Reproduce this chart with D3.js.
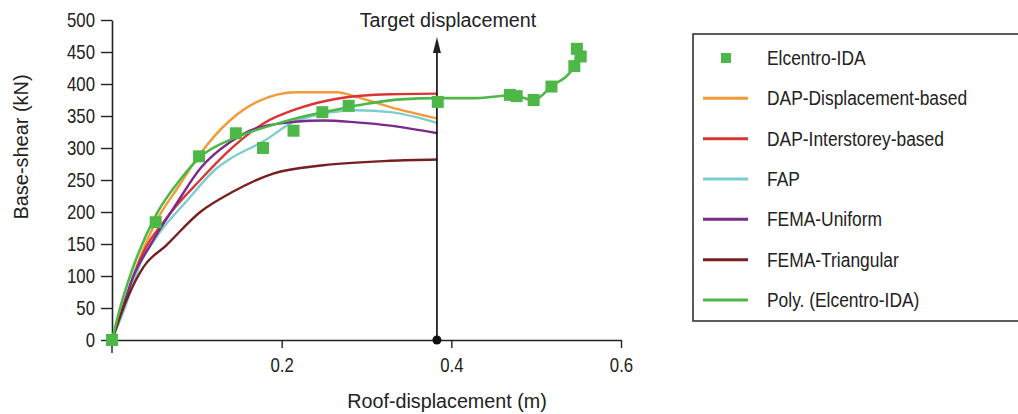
<!DOCTYPE html>
<html>
<head>
<meta charset="utf-8">
<script src="https://cdn.jsdelivr.net/npm/d3@7/dist/d3.min.js"></script>
<style>
  body { margin: 0; background: #fff; }
  svg text { font-family: "Liberation Sans Narrow", "Arial Narrow", "Liberation Sans", sans-serif; fill: #222; }
</style>
</head>
<body>
<div id="chart"></div>
<script>
// series names / colours
var seriesNames = ["DAP-Displacement-based", "DAP-Interstorey-based", "FAP", "FEMA-Uniform", "FEMA-Triangular", "Poly. (Elcentro-IDA)"];
var seriesColors = ["#F29B38", "#DA3434", "#7CCECE", "#7B2A8C", "#762022", "#4DB848"];

// roof displacement (m) / base shear (kN)
var idaX = [0, 0.0515, 0.1026, 0.146, 0.178, 0.214, 0.248, 0.279, 0.384, 0.469, 0.477, 0.497, 0.518, 0.545, 0.548, 0.5525];
var idaY = [0, 184, 287, 323, 300, 327, 356, 366, 372, 383, 381, 375, 396, 428, 455, 443];

var dapDispX = [0, 0.012, 0.025, 0.05, 0.08, 0.104, 0.139, 0.171, 0.218, 0.265, 0.288, 0.328, 0.384];
var dapDispY = [0, 45, 100, 180, 243, 291, 343, 372, 387, 387, 380, 364, 346];

var dapInterX = [0, 0.015, 0.033, 0.064, 0.104, 0.143, 0.178, 0.218, 0.265, 0.328, 0.384];
var dapInterY = [0, 55, 125, 190, 250, 302, 338, 361, 377, 384, 385];

var fapX = [0, 0.015, 0.033, 0.053, 0.09, 0.123, 0.139, 0.178, 0.218, 0.288, 0.328, 0.384];
var fapY = [0, 50, 118, 162, 220, 268, 283, 310, 343, 359, 356, 339];

var femaUX = [0, 0.012, 0.025, 0.045, 0.076, 0.104, 0.139, 0.182, 0.249, 0.288, 0.328, 0.384];
var femaUY = [0, 48, 99, 148, 213, 268, 309, 335, 343, 340, 335, 323];

var femaTX = [0, 0.017, 0.037, 0.064, 0.104, 0.143, 0.19, 0.249, 0.328, 0.384];
var femaTY = [0, 62, 114, 148, 200, 232, 260, 273, 280, 282];

var polyX = [0, 0.01, 0.025, 0.053, 0.08, 0.104, 0.143, 0.182, 0.222, 0.261, 0.3, 0.34, 0.384, 0.43, 0.469, 0.477, 0.497, 0.518, 0.545, 0.548];
var polyY = [0, 52, 114, 198, 250, 286, 315, 333, 348, 359, 369, 376, 378, 378, 382, 381, 375, 396, 428, 455];

var targetDisp = 0.383;
var xTicks = [0.2, 0.4, 0.6];
var yTicks = [0, 50, 100, 150, 200, 250, 300, 350, 400, 450, 500];

function zip(xs, ys) {
    return xs.map(function (x, i) { return {x: x, y: ys[i]}; });
}

// squeeze a text horizontally around its anchor (no narrow font available)
function narrowText(sel, px, py, k) {
    return sel.attr("transform", "translate(" + px + "," + py + ") scale(" + k + ",1)");
}

var width = 1018, height = 414;
var margin = {top: 20, left: 112, right: 397, bottom: 74};

var svg = d3.select("#chart").append("svg")
    .attr("width", width)
    .attr("height", height);

var x = d3.scaleLinear().domain([0, 0.6]).range([margin.left, width - margin.right]);
var y = d3.scaleLinear().domain([0, 500]).range([height - margin.bottom, margin.top]);

// axes
var xAxis = svg.append("g")
    .attr("transform", "translate(0," + y(0) + ")")
    .call(d3.axisBottom(x).tickValues(xTicks).tickSize(8).tickSizeOuter(0).tickPadding(10).tickFormat(d3.format(".1f")));
var yAxis = svg.append("g")
    .attr("transform", "translate(" + x(0) + ",0)")
    .call(d3.axisLeft(y).tickValues(yTicks).tickSize(11).tickSizeOuter(0).tickPadding(6));
[xAxis, yAxis].forEach(function (a) {
    a.select(".domain").attr("stroke", "#222").attr("stroke-width", 1.6);
    a.selectAll(".tick line").attr("stroke", "#222").attr("stroke-width", 1.4);
    a.selectAll(".tick text").style("font-size", "20px").attr("fill", "#222");
});
var tickK = 0.84;
xAxis.selectAll(".tick text").attr("transform", "scale(" + tickK + ",1)");
yAxis.selectAll(".tick text")
    .attr("x", -17 / tickK)
    .attr("transform", "scale(" + tickK + ",1)");

// long tick at origin
svg.append("line")
    .attr("x1", x(0)).attr("x2", x(0))
    .attr("y1", y(0)).attr("y2", y(0) + 13)
    .attr("stroke", "#222").attr("stroke-width", 1.4);

narrowText(svg.append("text"), 447, 408, 0.94)
    .attr("text-anchor", "middle")
    .style("font-size", "21px")
    .text("Roof-displacement (m)");
svg.append("text")
    .attr("transform", "translate(28,147) rotate(-90) scale(0.95,1)")
    .attr("text-anchor", "middle")
    .style("font-size", "21px")
    .text("Base-shear (kN)");

// curves
var line = d3.line()
    .x(function (d) { return x(d.x); })
    .y(function (d) { return y(d.y); })
    .curve(d3.curveMonotoneX);

var curves = [
    zip(dapDispX, dapDispY),
    zip(dapInterX, dapInterY),
    zip(fapX, fapY),
    zip(femaUX, femaUY),
    zip(femaTX, femaTY)
];
svg.selectAll(".curve")
    .data(curves)
    .enter().append("path")
    .attr("class", "curve")
    .attr("d", line)
    .attr("fill", "none")
    .attr("stroke", function (d, i) { return seriesColors[i]; })
    .attr("stroke-width", 2.4);

svg.append("path")
    .datum(zip(polyX, polyY))
    .attr("d", line)
    .attr("fill", "none")
    .attr("stroke", seriesColors[5])
    .attr("stroke-width", 2.6);

// target displacement arrow
var tx = x(targetDisp);
svg.append("line")
    .attr("x1", tx).attr("x2", tx)
    .attr("y1", y(0)).attr("y2", 50)
    .attr("stroke", "#222").attr("stroke-width", 1.8);
svg.append("path")
    .attr("d", "M" + (tx - 4) + ",53 L" + tx + ",37 L" + (tx + 4) + ",53 Z")
    .attr("fill", "#222");
svg.append("circle")
    .attr("cx", tx).attr("cy", y(0)).attr("r", 4.5)
    .attr("fill", "#111");
narrowText(svg.append("text"), 448, 27, 0.94)
    .attr("text-anchor", "middle")
    .style("font-size", "21px")
    .text("Target displacement");

// IDA markers
svg.selectAll(".ida")
    .data(zip(idaX, idaY))
    .enter().append("rect")
    .attr("class", "ida")
    .attr("x", function (d) { return x(d.x) - 6; })
    .attr("y", function (d) { return y(d.y) - 6; })
    .attr("width", 12).attr("height", 12)
    .attr("fill", "#4DB848");

// legend
var legend = svg.append("g");
legend.append("rect")
    .attr("x", 693).attr("y", 34)
    .attr("width", 340).attr("height", 287)
    .attr("fill", "#fff")
    .attr("stroke", "#333").attr("stroke-width", 1.6);

var legendItems = ["Elcentro-IDA"].concat(seriesNames);
var ly = d3.scalePoint().domain(legendItems).range([58, 300]);

legendItems.forEach(function (name, i) {
    var yy = ly(name);
    if (i === 0) {
        legend.append("rect")
            .attr("x", 721).attr("y", yy - 5)
            .attr("width", 10).attr("height", 10)
            .attr("fill", "#4DB848");
    } else {
        legend.append("line")
            .attr("x1", 703).attr("x2", 748)
            .attr("y1", yy).attr("y2", yy)
            .attr("stroke", seriesColors[i - 1])
            .attr("stroke-width", 3);
    }
    narrowText(legend.append("text"), 767, yy + 7, 0.87)
        .style("font-size", "20px")
        .text(name);
});
</script>
</body>
</html>
